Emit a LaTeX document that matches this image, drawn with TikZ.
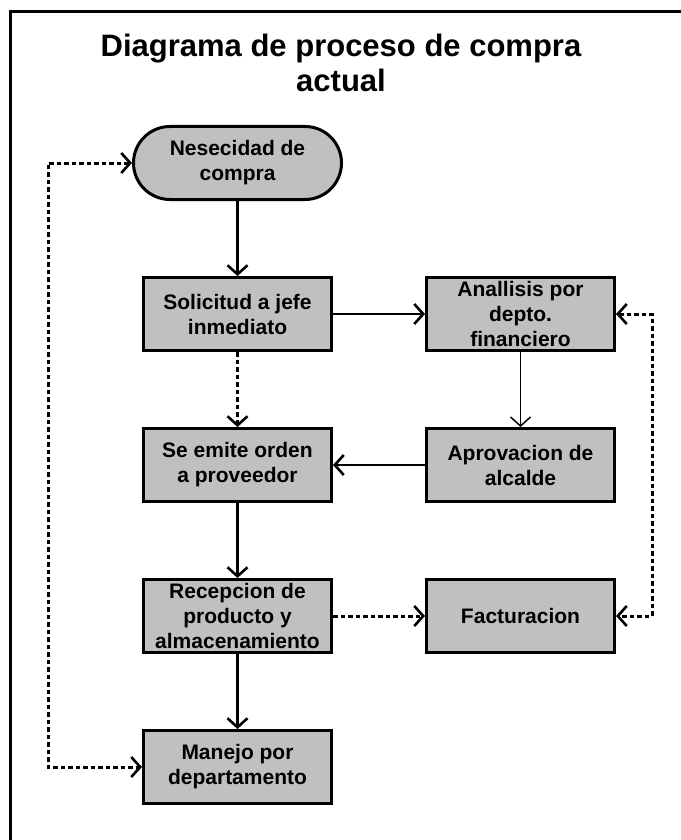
\documentclass[tikz,border=0pt]{standalone}
\usepackage{fontspec}
\setmainfont{Liberation Sans}
\usetikzlibrary{arrows.meta}
\definecolor{boxgray}{RGB}{192,192,192}
\begin{document}
\begin{tikzpicture}[x=1pt,y=-1pt,
  box/.style={draw=black, line width=3pt, fill=boxgray,
    minimum width=188pt, minimum height=73pt, align=center,
    font=\fontsize{21}{25}\selectfont\bfseries, inner sep=0pt},
  startbox/.style={box, minimum width=208pt, rounded corners=36.5pt},
  flow/.style={line width=2.6pt, -{Straight Barb[length=9pt,width=20pt,line width=2.6pt]}},
  thinflow/.style={line width=1.3pt, -{Straight Barb[length=9pt,width=20pt,line width=1.5pt]}},
  dotflow/.style={line width=3pt, dash pattern=on 4.5pt off 3pt,
    -{Straight Barb[length=9pt,width=20pt,line width=2.6pt]}},
  dotboth/.style={dotflow, {Straight Barb[length=9pt,width=20pt,line width=2.6pt]}-{Straight Barb[length=9pt,width=20pt,line width=2.6pt]}},
]
\useasboundingbox (0,0) rectangle (680,840);

% outer frame (left and top edges)
\draw[line width=3.5pt] (10.5,841) -- (10.5,11.5) -- (681,11.5);

% title
\node[align=center, font=\fontsize{31}{35}\selectfont\bfseries] (title) at (341,63)
  {Diagrama de proceso de compra\\actual};

% process steps
\node[startbox] (need) at (237.5,163) {Nesecidad de\\compra};
\node[box] (sol)  at (237.5,314) {Solicitud a jefe\\inmediato};
\node[box] (anal) at (520.5,314) {Anallisis por\\depto.\\financiero};
\node[box] (emit) at (237.5,465) {Se emite orden\\a proveedor};
\node[box] (apro) at (520.5,465) {Aprovacion de\\alcalde};
\node[box] (rec)  at (237.5,616) {Recepcion de\\producto y\\almacenamiento};
\node[box] (fact) at (520.5,616) {Facturacion};
\node[box] (man)  at (237.5,767) {Manejo por\\departamento};

\coordinate (lx) at (48,0);
\coordinate (rx) at (652,0);

% solid connectors
\draw[flow] (need) -- (sol);
\draw[flow] (sol) -- (anal);
\draw[thinflow] (anal) -- (apro);
\draw[flow] (apro) -- (emit);
\draw[flow] (emit) -- (rec);
\draw[flow] (rec) -- (man);

% dotted connectors
\draw[dotflow] (sol) -- (emit);
\draw[dotflow] (rec) -- (fact);
\draw[dotboth] (need.west) -- (need.west -| lx) |- (man.west);
\draw[dotboth] (anal.east) -- (anal.east -| rx) |- (fact.east);
\end{tikzpicture}
\end{document}
